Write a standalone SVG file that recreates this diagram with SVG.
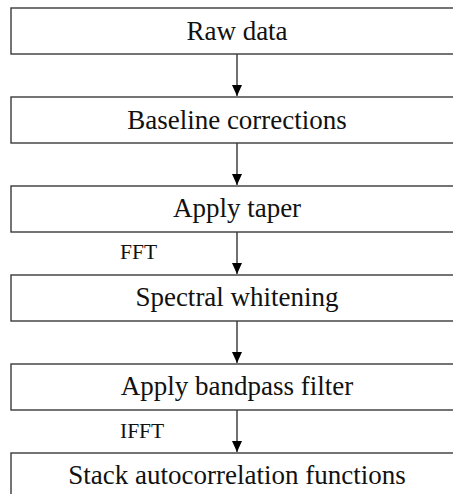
<svg xmlns="http://www.w3.org/2000/svg" width="453" height="494" viewBox="0 0 453 494">
<defs>
<style>
.box{fill:#fff;stroke:#3a3a3a;stroke-width:1.4}
.lbl{font-family:'Liberation Serif','Times New Roman',serif;font-size:27px;fill:#111;text-anchor:middle}
.side{font-family:'Liberation Serif','Times New Roman',serif;font-size:21.5px;fill:#111}
.conn{stroke:#111;stroke-width:1.2;fill:none;marker-end:url(#ah)}
</style>
<marker id="ah" viewBox="0 0 11 10" refX="11" refY="5" markerWidth="11" markerHeight="10" markerUnits="userSpaceOnUse" orient="auto">
<path d="M0,0 L11,5 L0,10 Z" fill="#000"/>
</marker>
</defs>
<rect width="453" height="494" fill="#fff"/>
<g id="connectors">
<line class="conn" x1="237" y1="54" x2="237" y2="96"/>
<line class="conn" x1="237" y1="143" x2="237" y2="185"/>
<line class="conn" x1="237" y1="232" x2="237" y2="274"/>
<line class="conn" x1="237" y1="321" x2="237" y2="363"/>
<line class="conn" x1="237" y1="410" x2="237" y2="452"/>
<text class="side" x="120" y="259">FFT</text>
<text class="side" x="120" y="438">IFFT</text>
</g>
<g id="n1"><rect class="box" x="11" y="8" width="460" height="46"/><text class="lbl" x="237" y="40">Raw data</text></g>
<g id="n2"><rect class="box" x="11" y="97" width="460" height="46"/><text class="lbl" x="237" y="129">Baseline  corrections</text></g>
<g id="n3"><rect class="box" x="11" y="186" width="460" height="46"/><text class="lbl" x="237" y="217">Apply taper</text></g>
<g id="n4"><rect class="box" x="11" y="275" width="460" height="46"/><text class="lbl" x="237" y="306">Spectral whitening</text></g>
<g id="n5"><rect class="box" x="11" y="364" width="460" height="46"/><text class="lbl" x="237" y="395">Apply bandpass filter</text></g>
<g id="n6"><rect class="box" x="11" y="453" width="460" height="46"/><text class="lbl" x="237" y="484">Stack autocorrelation  functions</text></g>
</svg>
